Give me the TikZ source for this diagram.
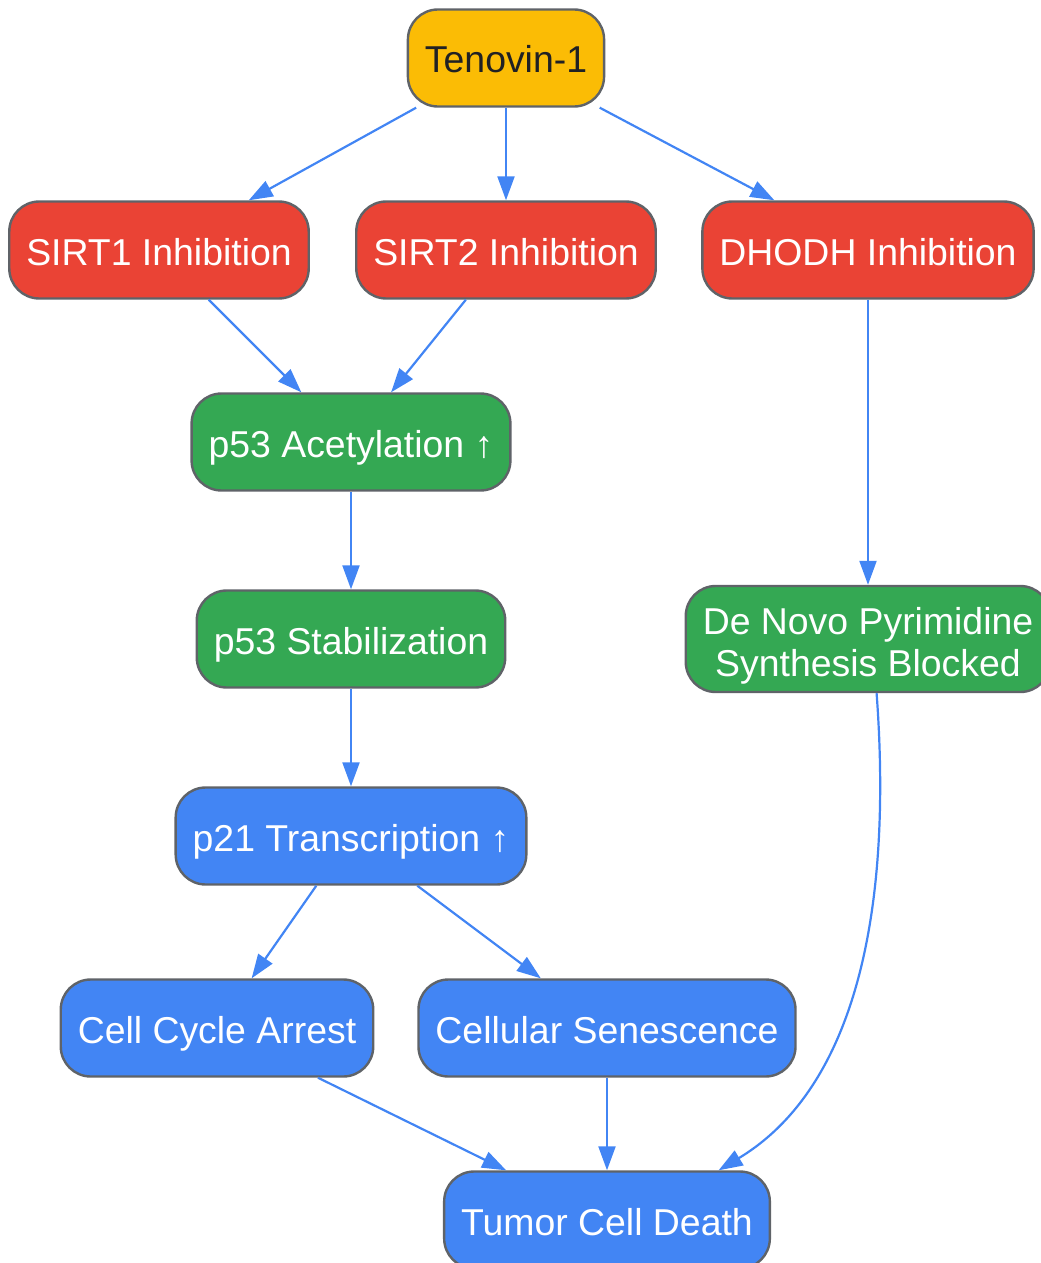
\documentclass[tikz,border=0pt]{standalone}
\usepackage{fontspec}
\setmainfont{Liberation Sans}
\usetikzlibrary{positioning,arrows.meta}
\definecolor{gyellow}{HTML}{FBBC05}
\definecolor{gred}{HTML}{EA4335}
\definecolor{ggreen}{HTML}{34A853}
\definecolor{gblue}{HTML}{4285F4}
\definecolor{gborder}{HTML}{5F6368}
\definecolor{gtext}{HTML}{202124}

\begin{document}
\begin{tikzpicture}[x=0.5pt, y=-0.5pt, on grid,
    box/.style={draw=gborder, line width=1.2pt, rounded corners=15pt,
      minimum height=48.5pt, inner xsep=8.5pt, align=center,
      text height=15pt, text depth=0pt,
      font=\fontsize{18.7}{21}\selectfont, text=white},
    drug/.style={box, fill=gyellow, text=gtext},
    inhib/.style={box, fill=gred},
    effect/.style={box, fill=ggreen},
    outcome/.style={box, fill=gblue},
    >={Triangle[length=12pt, width=8.5pt]},
    link/.style={->, draw, color=gblue, line width=1.1pt}]
  \useasboundingbox (0,0) rectangle (1040,1263);
  \node[drug] (tenovin) at (506,58) {Tenovin-1};
  \node[inhib] (sirt2) [below=96pt of tenovin] {SIRT2 Inhibition};
  \node[inhib] (sirt1) [left=173.5pt of sirt2] {SIRT1 Inhibition};
  \node[inhib] (dhodh) [right=181pt of sirt2] {DHODH Inhibition};
  \node[effect] (acet) at (351,442) {p53 Acetylation ↑};
  \node[effect] (stab) [below=98.5pt of acet] {p53 Stabilization};
  \node[effect, minimum height=53pt, text height=41pt, text depth=4pt] (denovo)
    [below=194.5pt of dhodh] {De Novo Pyrimidine\\Synthesis Blocked};
  \node[outcome] (p21) [below=98.5pt of stab] {p21 Transcription ↑};
  \node[outcome] (arrest) [below left=96pt and 67pt of p21] {Cell Cycle Arrest};
  \node[outcome] (senes) [below right=96pt and 128pt of p21] {Cellular Senescence};
  \node[outcome] (death) [below=96pt of senes] {Tumor Cell Death};
  \path[link] (tenovin) edge (sirt1)
              (tenovin) edge (sirt2)
              (tenovin) edge (dhodh)
              (sirt1) edge (acet)
              (sirt2) edge (acet)
              (acet) edge (stab)
              (stab) edge (p21)
              (dhodh) edge (denovo)
              (p21) edge (arrest)
              (p21) edge (senes)
              (arrest) edge (death)
              (senes) edge (death);
  \draw[link] (denovo.-81) .. controls (892,900) and (860,1085) .. (death.24);
\end{tikzpicture}
\end{document}
